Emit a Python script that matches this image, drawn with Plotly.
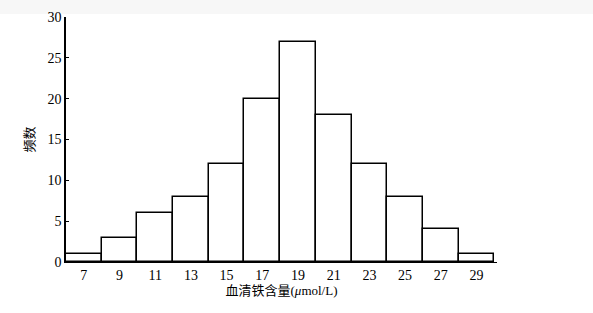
import plotly.graph_objects as go

bin_centers = [7, 9, 11, 13, 15, 17, 19, 21, 23, 25, 27, 29]
frequencies = [1, 3, 6, 8, 12, 20, 27, 18, 12, 8, 4, 1]
y_ticks = [0, 5, 10, 15, 20, 25, 30]
x_title = "血清铁含量(<i>μ</i>mol/L)"
y_title = "频数"

serif = "Liberation Serif, Times New Roman, serif"
cjk = "Liberation Serif, Noto Sans CJK SC, serif"

fig = go.Figure()
fig.add_trace(go.Bar(
    x=bin_centers, y=frequencies, width=2,
    marker=dict(color="white", line=dict(color="black", width=1.5)),
    showlegend=False,
))

fig.update_layout(
    width=593, height=313,
    margin=dict(l=66, r=96, t=10, b=51),
    paper_bgcolor="white", plot_bgcolor="white",
    font=dict(family=serif, size=14, color="black"),
    bargap=0,
    xaxis=dict(
        range=[6, 30.15], tickmode="array", tickvals=bin_centers,
        ticks="", showgrid=False, zeroline=False,
        showline=True, linecolor="black", linewidth=1.2,
        tickfont=dict(family=serif, size=14),
        title=dict(text=x_title, font=dict(family=cjk, size=13), standoff=3),
    ),
    yaxis=dict(
        range=[0, 30], tickmode="array", tickvals=y_ticks,
        ticks="inside", ticklen=3, tickcolor="black", tickwidth=1,
        showgrid=False, zeroline=False,
        showline=True, linecolor="black", linewidth=1.5,
        tickfont=dict(family=serif, size=14),
        title=dict(text=y_title, font=dict(family=cjk, size=13), standoff=10),
    ),
    shapes=[dict(type="rect", xref="paper", yref="paper", x0=-0.2, x1=1.3,
                 y0=1.012, y1=1.2, fillcolor="#f7f7f7", line=dict(width=0), layer="below")],
)

fig.write_html("out.html")
